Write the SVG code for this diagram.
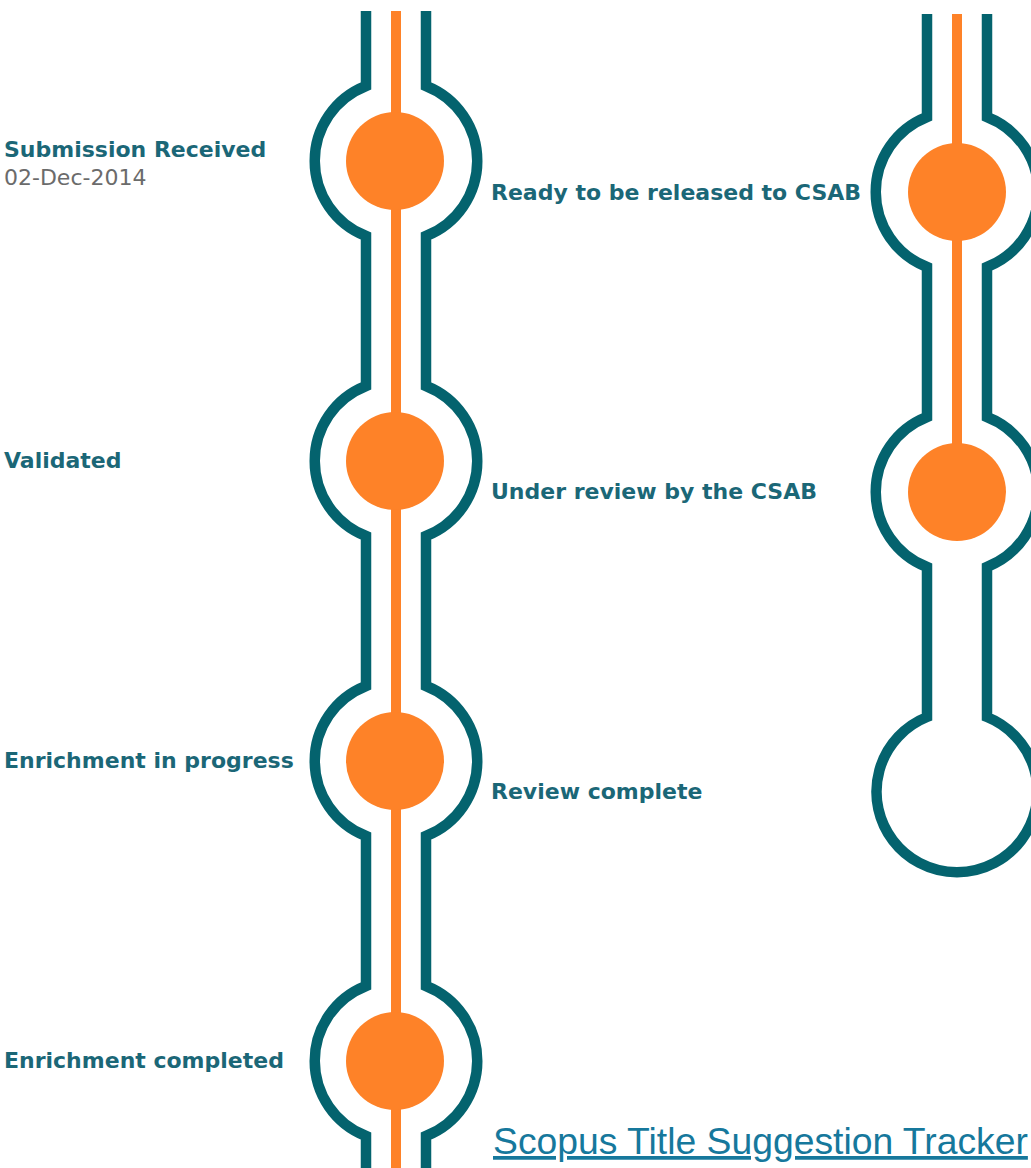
<svg xmlns="http://www.w3.org/2000/svg" width="1031" height="1168" viewBox="0 0 1031 1168">
  <style>
    .rail { fill: none; stroke: #04636e; stroke-width: 10.5; stroke-linejoin: miter; }
    .flow { fill: none; stroke: #fe8228; stroke-width: 10; }
    .dot { fill: #fe8228; }
    .label { font-family: "DejaVu Sans", Verdana, sans-serif; font-weight: bold; font-size: 22px; fill: #1b6777; }
    .date { font-family: "DejaVu Sans", Verdana, sans-serif; font-size: 22px; fill: #6b6b6b; }
    .link { font-family: "Liberation Sans", Arial, sans-serif; font-size: 37.3px; fill: #16789c; text-decoration: underline; }
  </style>
  <rect width="1031" height="1168" fill="#ffffff"/>

  <!-- tubes and progress lines -->
  <g id="connectors">
    <!-- left column tube walls -->
    <path class="rail" d="M366,11 V86 A80.5,80.5 0 0 0 366,236 V386 A80.5,80.5 0 0 0 366,536 V686 A80.5,80.5 0 0 0 366,836 V986 A80.5,80.5 0 0 0 366,1136 V1168"/>
    <path class="rail" d="M426,11 V86 A80.5,80.5 0 0 1 426,236 V386 A80.5,80.5 0 0 1 426,536 V686 A80.5,80.5 0 0 1 426,836 V986 A80.5,80.5 0 0 1 426,1136 V1168"/>
    <!-- left column progress line -->
    <line class="flow" x1="396" y1="11" x2="396" y2="1168"/>
    <!-- right column tube, closed at the last stage -->
    <path class="rail" d="M927,14 V117 A80.5,80.5 0 0 0 927,267 V417 A80.5,80.5 0 0 0 927,567 V717 A80.5,80.5 0 1 0 987,717 V567 A80.5,80.5 0 0 0 987,417 V267 A80.5,80.5 0 0 0 987,117 V14"/>
    <!-- right column progress line -->
    <line class="flow" x1="957" y1="14" x2="957" y2="492"/>
  </g>

  <!-- stages, left column -->
  <g id="stage-submission-received">
    <circle class="dot" cx="395" cy="161" r="49"/>
    <text class="label" x="4" y="157">Submission Received</text>
    <text class="date" x="4" y="185">02-Dec-2014</text>
  </g>
  <g id="stage-validated">
    <circle class="dot" cx="395" cy="461" r="49"/>
    <text class="label" x="4" y="468">Validated</text>
  </g>
  <g id="stage-enrichment-in-progress">
    <circle class="dot" cx="395" cy="761" r="49"/>
    <text class="label" x="4" y="768">Enrichment in progress</text>
  </g>
  <g id="stage-enrichment-completed">
    <circle class="dot" cx="395" cy="1061" r="49"/>
    <text class="label" x="4" y="1068">Enrichment completed</text>
  </g>

  <!-- stages, right column -->
  <g id="stage-ready-for-csab">
    <circle class="dot" cx="957" cy="192" r="49"/>
    <text class="label" x="491" y="200">Ready to be released to CSAB</text>
  </g>
  <g id="stage-under-review">
    <circle class="dot" cx="957" cy="492" r="49"/>
    <text class="label" x="491" y="499">Under review by the CSAB</text>
  </g>
  <g id="stage-review-complete">
    <text class="label" x="491" y="799">Review complete</text>
  </g>

  <g id="title">
    <text class="link" x="493" y="1154">Scopus Title Suggestion Tracker</text>
  </g>
</svg>
